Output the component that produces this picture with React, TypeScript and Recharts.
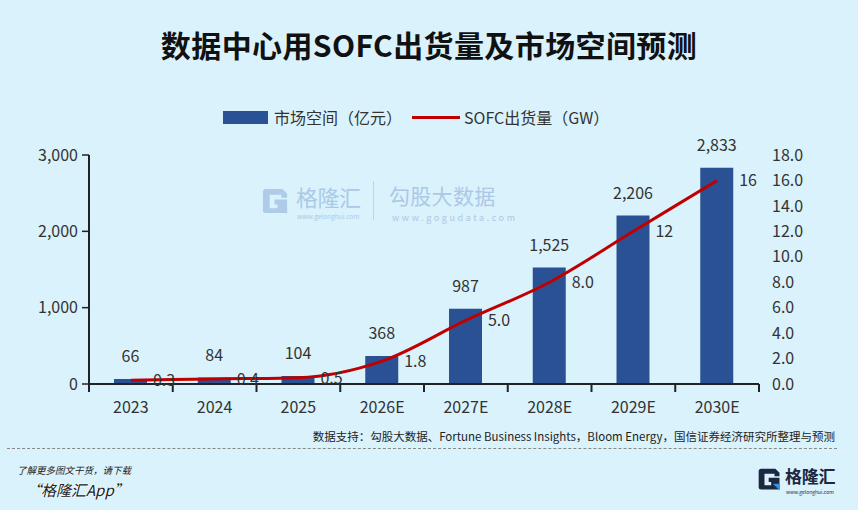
import React from "react";
import { ComposedChart, Bar, Line, XAxis, YAxis, LabelList } from "recharts";

const years = ["2023", "2024", "2025", "2026E", "2027E", "2028E", "2029E", "2030E"];
const marketSize = [66, 84, 104, 368, 987, 1525, 2206, 2833];
const shipments = [0.3, 0.4, 0.5, 1.8, 5.0, 8.0, 12, 16];
const shipmentLabels = ["0.3", "0.4", "0.5", "1.8", "5.0", "8.0", "12", "16"];
const leftTicks = [0, 1000, 2000, 3000];
const rightTicks = [0, 2, 4, 6, 8, 10, 12, 14, 16, 18];
const seriesNames = ["市场空间（亿元）", "SOFC出货量（GW）"];

const data = years.map((year, i) => ({
  year,
  market: marketSize[i],
  sofc: shipments[i],
  sofcLabel: shipmentLabels[i],
}));

const W = 858;
const H = 510;
const LEFT_W = 89;
const RIGHT_W = 99;
const BAND = (W - LEFT_W - RIGHT_W) / years.length;
const FONT = '"Noto Sans CJK SC", "Noto Sans", sans-serif';
const BAR = "#2b5195";
const RED = "#c00000";
const INK = "#333";

const XTick = ({ x, y, payload, index }: any) => (
  <g>
    {index === 0 && <line x1={x - BAND / 2} x2={x - BAND / 2} y1={y} y2={y + 8} stroke="#222" strokeWidth={2} />}
    <line x1={x + BAND / 2} x2={x + BAND / 2} y1={y} y2={y + 8} stroke="#222" strokeWidth={2} />
    <text x={x} y={y + 29} textAnchor="middle" fill={INK} fontSize={16} fontFamily={FONT}>
      {payload.value}
    </text>
  </g>
);

const BarLabel = ({ x, y, width, value }: any) => (
  <text x={x + width / 2} y={y - 17} textAnchor="middle" fill={INK} fontSize={16} fontFamily={FONT}>
    {Number(value).toLocaleString("en-US")}
  </text>
);

const LineLabel = ({ x, y, value }: any) => (
  <text x={x + 22} y={y + 6} textAnchor="start" fill={INK} fontSize={16} fontFamily={FONT}>
    {value}
  </text>
);

const GIcon = ({ size, main, accent }: { size: number; main: string; accent: string }) => (
  <svg width={size} height={size} viewBox="0 0 30 30" style={{ display: "block" }}>
    <path d="M5 2 H22 L27 7 V11 H21 V8 H9 V22 H17 V18 H14 V13 H27 V27 H5 Q2 27 2 24 V5 Q2 2 5 2 Z" fill={main} />
    <path d="M19 20 L27 28 V20 Z" fill={accent} />
  </svg>
);

export default function App() {
  return (
    <div
      style={{
        position: "fixed",
        left: 0,
        top: 0,
        width: W,
        height: H,
        background: "#daf2fc",
        overflow: "hidden",
        fontFamily: FONT,
      }}
    >
      <div
        style={{
          position: "absolute",
          top: 24,
          width: W,
          textAlign: "center",
          fontSize: 30,
          fontWeight: 600,
          letterSpacing: 0.4,
          color: "#111",
          lineHeight: "40px",
        }}
      >
        数据中心用SOFC出货量及市场空间预测
      </div>

      {/* legend */}
      <div style={{ position: "absolute", top: 106, left: 223, display: "flex", alignItems: "center", fontSize: 16, color: INK, lineHeight: "22px" }}>
        <span style={{ width: 45, height: 13, background: BAR, marginRight: 6 }} />
        <span>{seriesNames[0]}</span>
        <span style={{ width: 48, height: 3, background: RED, margin: "0 4px 0 10px" }} />
        <span>{seriesNames[1]}</span>
      </div>

      {/* watermark */}
      <div style={{ position: "absolute", left: 261, top: 187 }}>
        <GIcon size={29} main="#aecbe8" accent="#aecbe8" />
      </div>
      <div style={{ position: "absolute", left: 296, top: 181, fontSize: 22, lineHeight: "30px", color: "#abc9e7", letterSpacing: -0.5 }}>格隆汇</div>
      <div style={{ position: "absolute", left: 297, top: 212, fontSize: 6.5, lineHeight: "8px", color: "#abc9e7" }}>www.gelonghui.com</div>
      <div style={{ position: "absolute", left: 373, top: 181, width: 1, height: 39, background: "#bcd5ec" }} />
      <div style={{ position: "absolute", left: 389, top: 180, fontSize: 21, lineHeight: "30px", color: "#abc9e7", letterSpacing: 0.3 }}>勾股大数据</div>
      <div style={{ position: "absolute", left: 392, top: 212, fontSize: 9, lineHeight: "11px", color: "#abc9e7", letterSpacing: 2.6 }}>www.gogudata.com</div>

      <ComposedChart
        width={W}
        height={H}
        data={data}
        margin={{ top: 155, right: 0, bottom: 96, left: 0 }}
        style={{ position: "absolute", left: 0, top: 0 }}
      >
        <XAxis
          dataKey="year"
          height={30}
          axisLine={{ stroke: "#222", strokeWidth: 2 }}
          tickLine={false}
          tickSize={0}
          tickMargin={0}
          tick={<XTick />}
          interval={0}
        />
        <YAxis
          yAxisId="left"
          orientation="left"
          width={LEFT_W}
          domain={[0, 3000]}
          ticks={leftTicks}
          tickFormatter={(v: number) => v.toLocaleString("en-US")}
          axisLine={{ stroke: "#222", strokeWidth: 2 }}
          tickLine={{ stroke: "#222", strokeWidth: 1.5 }}
          tickSize={7}
          tickMargin={4}
          tick={{ fill: INK, fontSize: 16, fontFamily: FONT }}
        />
        <YAxis
          yAxisId="right"
          orientation="right"
          width={RIGHT_W}
          domain={[0, 18]}
          ticks={rightTicks}
          tickFormatter={(v: number) => v.toFixed(1)}
          axisLine={false}
          tickLine={false}
          tickSize={0}
          tickMargin={13}
          tick={{ fill: INK, fontSize: 16, fontFamily: FONT, textAnchor: "start" }}
        />
        <Bar dataKey="market" yAxisId="left" fill={BAR} barSize={33} isAnimationActive={false}>
          <LabelList dataKey="market" content={<BarLabel />} />
        </Bar>
        <Line
          dataKey="sofc"
          yAxisId="right"
          type="monotone"
          stroke={RED}
          strokeWidth={3}
          dot={false}
          activeDot={false}
          isAnimationActive={false}
        >
          <LabelList dataKey="sofcLabel" content={<LineLabel />} />
        </Line>
      </ComposedChart>

      {/* footer */}
      <div style={{ position: "absolute", right: 23, top: 428, fontSize: 11.5, color: "#222", whiteSpace: "nowrap", lineHeight: "16px" }}>
        数据支持：勾股大数据、Fortune Business Insights，Bloom Energy，国信证券经济研究所整理与预测
      </div>
      <div style={{ position: "absolute", left: 7, top: 448, width: 830, borderTop: "1px dashed #888" }} />
      <div style={{ position: "absolute", left: 17, top: 463, fontSize: 9.5, fontStyle: "italic", color: "#222", lineHeight: "14px" }}>
        了解更多图文干货，请下载
      </div>
      <div
        style={{
          position: "absolute",
          left: 26,
          top: 480,
          fontSize: 15,
          fontStyle: "italic",
          color: "#222",
          lineHeight: "20px",
          textShadow: "0 0 2px #fff, 0 0 2px #fff",
        }}
      >
        “格隆汇App”
      </div>
      <div style={{ position: "absolute", left: 757, top: 467 }}>
        <GIcon size={25} main="#1c2741" accent="#3b8ee0" />
      </div>
      <div style={{ position: "absolute", left: 785, top: 463, fontSize: 17, fontWeight: 700, lineHeight: "25px", color: "#1c2741", letterSpacing: -0.3 }}>格隆汇</div>
      <div style={{ position: "absolute", left: 786, top: 489, fontSize: 5, lineHeight: "6px", color: "#1c2741" }}>www.gelonghui.com</div>
    </div>
  );
}
